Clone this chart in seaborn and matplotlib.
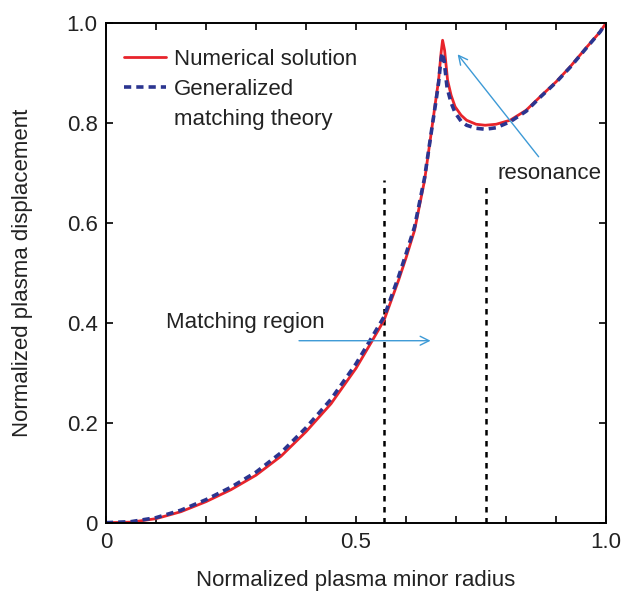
import matplotlib
matplotlib.use("Agg")
import matplotlib.pyplot as plt
from matplotlib.ticker import MultipleLocator, FixedLocator
import pandas as pd
import seaborn as sns

# values
radius_num = [0.00, 0.05, 0.10, 0.15, 0.20, 0.25, 0.30, 0.35, 0.40, 0.45, 0.50,
              0.53, 0.556, 0.585, 0.60, 0.617, 0.637, 0.651, 0.660, 0.665, 0.670,
              0.673, 0.677, 0.683, 0.690, 0.698, 0.710, 0.721, 0.740, 0.758,
              0.780, 0.808, 0.840, 0.868, 0.90, 0.928, 0.96, 0.988, 1.00]
disp_num = [0.000, 0.001, 0.008, 0.022, 0.042, 0.066, 0.095, 0.133, 0.182, 0.238,
            0.309, 0.360, 0.405, 0.485, 0.530, 0.585, 0.685, 0.785, 0.850, 0.885,
            0.940, 0.965, 0.945, 0.885, 0.855, 0.832, 0.815, 0.805, 0.797, 0.795,
            0.797, 0.805, 0.825, 0.852, 0.882, 0.912, 0.950, 0.982, 1.000]

radius_gmt = [0.00, 0.05, 0.10, 0.15, 0.20, 0.25, 0.30, 0.35, 0.40, 0.45, 0.50,
              0.53, 0.556, 0.585, 0.60, 0.617, 0.637, 0.651, 0.660, 0.665, 0.669,
              0.672, 0.676, 0.682, 0.690, 0.698, 0.710, 0.721, 0.740, 0.758,
              0.780, 0.808, 0.840, 0.868, 0.90, 0.928, 0.96, 0.988, 1.00]
disp_gmt = [0.000, 0.002, 0.010, 0.025, 0.046, 0.071, 0.101, 0.140, 0.190, 0.247,
            0.318, 0.368, 0.412, 0.492, 0.538, 0.592, 0.690, 0.785, 0.845, 0.880,
            0.920, 0.940, 0.925, 0.870, 0.840, 0.820, 0.803, 0.795, 0.789, 0.787,
            0.790, 0.802, 0.823, 0.851, 0.881, 0.911, 0.949, 0.982, 1.000]

# matching region boundaries (x position, top of dashed line)
match_edges = [0.556, 0.760]
match_tops = [0.685, 0.68]

x_ticks = [0, 0.5, 1.0]
x_ticklabels = ["0", "0.5", "1.0"]
y_ticks = [0, 0.2, 0.4, 0.6, 0.8, 1.0]
y_ticklabels = ["0", "0.2", "0.4", "0.6", "0.8", "1.0"]

sns.set_style("ticks")
plt.rcParams["font.family"] = ["Liberation Sans", "DejaVu Sans"]
plt.rcParams["xtick.direction"] = "in"
plt.rcParams["ytick.direction"] = "in"

num = pd.DataFrame({"r": radius_num, "d": disp_num})
gmt = pd.DataFrame({"r": radius_gmt, "d": disp_gmt})

fig = plt.figure(figsize=(6.23, 5.99), dpi=100)
ax = fig.add_axes([0.170, 0.1274, 0.803, 0.8346])

for xe, top in zip(match_edges, match_tops):
    ax.plot([xe, xe], [0, top], color="black", lw=1.8, ls=(0, (2.2, 2.2)))

sns.lineplot(data=num, x="r", y="d", ax=ax, color="#e8242b", lw=2.0,
             sort=False, label="Numerical solution")
sns.lineplot(data=gmt, x="r", y="d", ax=ax, color="#2b3590", lw=2.6,
             ls=(0, (2.0, 1.4)), sort=False, label="Generalized")
# second line of the legend label, handle hidden
ax.plot([], [], color="none", label="matching theory")

ax.set_xlim(0, 1)
ax.set_ylim(0, 1)
ax.xaxis.set_major_locator(FixedLocator(x_ticks))
ax.xaxis.set_minor_locator(MultipleLocator(0.1))
ax.yaxis.set_major_locator(FixedLocator(y_ticks))
ax.set_xticklabels(x_ticklabels)
ax.set_yticklabels(y_ticklabels)
ax.tick_params(which="both", top=True, right=True, length=5, width=1.2,
               labelsize=16, color="black", labelcolor="#222222")
ax.tick_params(axis="x", pad=7)
ax.tick_params(axis="y", pad=6)
for sp in ax.spines.values():
    sp.set_linewidth(1.4)
    sp.set_color("black")

ax.set_xlabel("Normalized plasma minor radius", fontsize=16, labelpad=12,
              color="#222222")
ax.set_ylabel("Normalized plasma displacement", fontsize=16, labelpad=24,
              color="#222222")

leg = ax.legend(loc="upper left", frameon=False, fontsize=16,
                handlelength=1.9, handletextpad=0.35, labelspacing=0.42,
                bbox_to_anchor=(0.01, 0.975), borderaxespad=0.2)
for t in leg.get_texts():
    t.set_color("#222222")

blue_arrow = dict(arrowstyle="->", color="#3d9ad6", lw=1.0,
                  mutation_scale=16, shrinkA=0, shrinkB=0)
ax.text(0.782, 0.699, "resonance", fontsize=16, va="center", ha="left",
        color="#222222")
ax.annotate("", xy=(0.703, 0.937), xytext=(0.865, 0.732),
            arrowprops=blue_arrow)
ax.text(0.12, 0.401, "Matching region", fontsize=16, va="center", ha="left",
        color="#222222")
ax.annotate("", xy=(0.649, 0.364), xytext=(0.386, 0.364),
            arrowprops=blue_arrow)

fig.savefig("out.png", dpi=100)
